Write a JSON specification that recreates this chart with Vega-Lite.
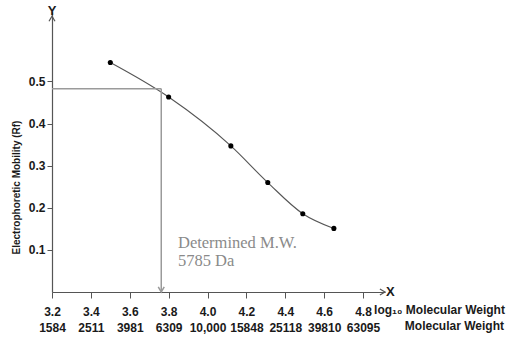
{
  "$schema": "https://vega.github.io/schema/vega-lite/v6.json",
  "width": 333,
  "height": 280,
  "autosize": {"type": "none"},
  "padding": {"left": 52, "top": 12, "right": 123, "bottom": 46},
  "background": "white",
  "config": {"view": {"stroke": null}, "font": "Liberation Sans"},
  "layer": [
    {
      "data": {"values": [
        {"logmw": 3.5, "rf": 0.545},
        {"logmw": 3.8, "rf": 0.463},
        {"logmw": 4.12, "rf": 0.347},
        {"logmw": 4.31, "rf": 0.26},
        {"logmw": 4.49, "rf": 0.186},
        {"logmw": 4.65, "rf": 0.151}
      ]},
      "mark": {"type": "line", "interpolate": "monotone", "color": "#555555", "strokeWidth": 1.1},
      "encoding": {
        "x": {
          "field": "logmw", "type": "quantitative",
          "scale": {"domain": [3.2, 4.913], "nice": false, "zero": false},
          "axis": {
            "values": [3.2, 3.4, 3.6, 3.8, 4.0, 4.2, 4.4, 4.6, 4.8],
            "labelExpr": "[format(datum.value, '.1f'), datum.value == 4 ? '10,000' : format(floor(pow(10, datum.value)), 'd')]",
            "title": null,
            "grid": false,
            "domainColor": "#555555",
            "domainWidth": 1.2,
            "tickColor": "#555555",
            "tickSize": 6,
            "labelFontWeight": "bold",
            "labelFontSize": 12,
            "labelColor": "#1a1a1a",
            "labelPadding": 8,
            "labelLineHeight": 16.5,
            "labelOverlap": false,
            "labelFlush": false,
            "labelBaseline": "top"
          }
        },
        "y": {
          "field": "rf", "type": "quantitative",
          "scale": {"domain": [0, 0.665], "nice": false, "zero": true},
          "axis": {
            "values": [0.1, 0.2, 0.3, 0.4, 0.5],
            "format": ".1f",
            "title": "Electrophoretic Mobility (Rf)",
            "titleX": -36,
            "titleY": 175,
            "titleAngle": -90,
            "titleAlign": "center",
            "titleBaseline": "middle",
            "titleFontSize": 10,
            "titleFontWeight": "bold",
            "titleColor": "#1a1a1a",
            "grid": false,
            "domainColor": "#555555",
            "domainWidth": 1.2,
            "tickColor": "#555555",
            "tickSize": 5,
            "labelPadding": 2,
            "labelFontWeight": "bold",
            "labelFontSize": 12,
            "labelColor": "#1a1a1a"
          }
        }
      }
    },
    {
      "data": {"values": [
        {"logmw": 3.5, "rf": 0.545},
        {"logmw": 3.8, "rf": 0.463},
        {"logmw": 4.12, "rf": 0.347},
        {"logmw": 4.31, "rf": 0.26},
        {"logmw": 4.49, "rf": 0.186},
        {"logmw": 4.65, "rf": 0.151}
      ]},
      "mark": {"type": "point", "filled": true, "color": "#000000", "size": 26, "opacity": 1},
      "encoding": {
        "x": {"field": "logmw", "type": "quantitative"},
        "y": {"field": "rf", "type": "quantitative"}
      }
    },
    {
      "data": {"values": [
        {"logmw": 3.2, "logmw2": 3.762, "rf": 0.483, "rf2": 0.483},
        {"logmw": 3.762, "logmw2": 3.762, "rf": 0.483, "rf2": 0.002}
      ]},
      "mark": {"type": "rule", "color": "#9a9a9a", "strokeWidth": 1.5},
      "encoding": {
        "x": {"field": "logmw", "type": "quantitative"},
        "x2": {"field": "logmw2"},
        "y": {"field": "rf", "type": "quantitative"},
        "y2": {"field": "rf2"}
      }
    },
    {
      "data": {"values": [{"logmw": 3.762, "rf": 0.0}]},
      "mark": {"type": "point", "shape": "M-1,-1.7L0,0L1,-1.7", "filled": false, "size": 36, "color": "#9a9a9a", "strokeWidth": 1.5, "opacity": 1},
      "encoding": {
        "x": {"field": "logmw", "type": "quantitative"},
        "y": {"field": "rf", "type": "quantitative"}
      }
    },
    {
      "data": {"values": [{"logmw": 4.913, "rf": 0.0}]},
      "mark": {"type": "point", "shape": "M-1.7,-1L0,0L-1.7,1", "filled": false, "size": 36, "color": "#555555", "strokeWidth": 1.2, "opacity": 1},
      "encoding": {
        "x": {"field": "logmw", "type": "quantitative"},
        "y": {"field": "rf", "type": "quantitative"}
      }
    },
    {
      "data": {"values": [{"logmw": 3.2, "rf": 0.655}]},
      "mark": {"type": "point", "shape": "M-1,1.7L0,0L1,1.7", "filled": false, "size": 36, "color": "#555555", "strokeWidth": 1.2, "opacity": 1},
      "encoding": {
        "x": {"field": "logmw", "type": "quantitative"},
        "y": {"field": "rf", "type": "quantitative"}
      }
    },
    {
      "data": {"values": [
        {"logmw": 3.848, "rf": 0.105, "label": "Determined M.W."},
        {"logmw": 3.848, "rf": 0.0615, "label": "5785 Da"}
      ]},
      "mark": {"type": "text", "align": "left", "baseline": "alphabetic", "font": "Liberation Serif", "fontSize": 16.5, "color": "#8a8a8a"},
      "encoding": {
        "x": {"field": "logmw", "type": "quantitative"},
        "y": {"field": "rf", "type": "quantitative"},
        "text": {"field": "label"}
      }
    },
    {
      "data": {"values": [
        {"logmw": 5.53, "rf": -0.0515, "label": "log₁₀ Molecular Weight"},
        {"logmw": 5.525, "rf": -0.0895, "label": "Molecular Weight"}
      ]},
      "mark": {"type": "text", "align": "right", "baseline": "alphabetic", "fontWeight": "bold", "fontSize": 12, "color": "#1a1a1a"},
      "encoding": {
        "x": {"field": "logmw", "type": "quantitative"},
        "y": {"field": "rf", "type": "quantitative"},
        "text": {"field": "label"}
      }
    },
    {
      "data": {"values": [{"logmw": 4.913, "rf": 0.0, "label": "X"}]},
      "mark": {"type": "text", "align": "left", "baseline": "middle", "dx": 1, "fontWeight": "bold", "fontSize": 13, "color": "#1a1a1a"},
      "encoding": {
        "x": {"field": "logmw", "type": "quantitative"},
        "y": {"field": "rf", "type": "quantitative"},
        "text": {"field": "label"}
      }
    },
    {
      "data": {"values": [{"logmw": 3.2, "rf": 0.665, "label": "Y"}]},
      "mark": {"type": "text", "align": "center", "baseline": "middle", "dy": -1, "fontWeight": "bold", "fontSize": 13, "color": "#1a1a1a"},
      "encoding": {
        "x": {"field": "logmw", "type": "quantitative"},
        "y": {"field": "rf", "type": "quantitative"},
        "text": {"field": "label"}
      }
    }
  ]
}
